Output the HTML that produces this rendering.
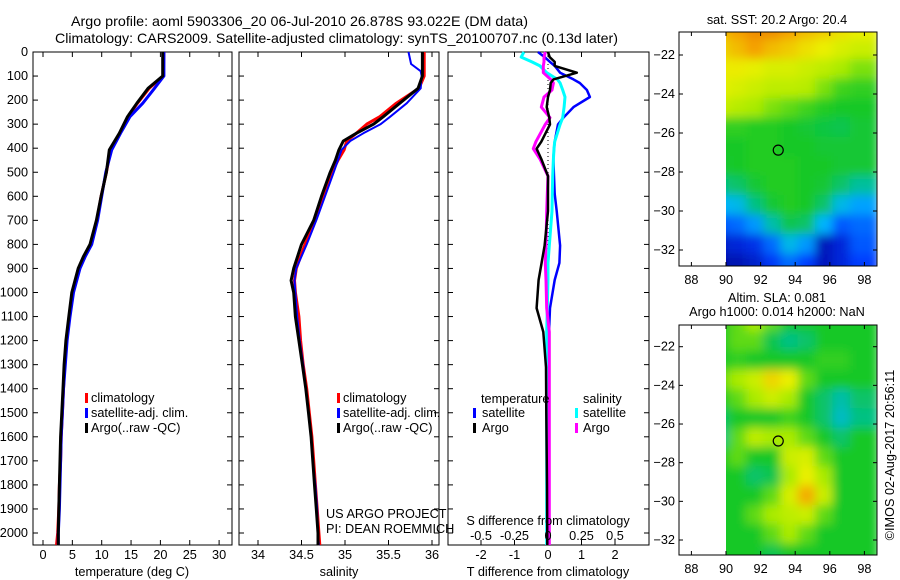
<!DOCTYPE html>
<html><head><meta charset="utf-8"><style>
body{margin:0;background:#fff}
svg{display:block;font-family:"Liberation Sans",sans-serif;font-size:12.7px}
</style></head><body>
<svg id="fig" width="900" height="580" viewBox="0 0 900 580" xmlns="http://www.w3.org/2000/svg">
<defs>
<filter id="blur" x="-5%" y="-5%" width="110%" height="110%"><feGaussianBlur stdDeviation="5"/></filter>
<clipPath id="clipTop"><rect x="726" y="32" width="151" height="234"/></clipPath>
<clipPath id="clipBot"><rect x="726" y="325" width="151" height="230"/></clipPath>
</defs>
<text x="71" y="26" textLength="457" lengthAdjust="spacingAndGlyphs" style="font-size:14px">Argo profile: aoml 5903306_20 06-Jul-2010 26.878S 93.022E (DM data)</text>
<text x="55" y="43" textLength="563" lengthAdjust="spacingAndGlyphs" style="font-size:14px">Climatology: CARS2009. Satellite-adjusted climatology: synTS_20100707.nc (0.13d later)</text>
<g id="g"></g>
</svg>
<script>
// ---- data ----
const tDepth=[0,100,151,213,269,338,407,500,600,700,800,850,900,1000,1100,1200,1300,1400,1500,1600,1700,1800,1900,2000,2050];
const tArgo=[20.4,20.4,17.9,16.0,14.4,13.0,11.3,10.8,9.9,9.1,8.0,6.9,6.0,4.9,4.4,3.9,3.6,3.4,3.2,3.0,2.9,2.8,2.7,2.6,2.6];
const tSat=[20.6,20.6,19.0,17.0,14.8,13.2,11.7,10.7,10.0,9.3,8.3,7.2,6.3,5.2,4.6,4.1,3.8,3.5,3.3,3.1,3.0,2.9,2.8,2.6,2.6];
const tClim=[20.6,20.5,18.1,16.1,14.5,13.1,11.5,10.8,9.9,9.2,8.1,7.0,6.1,5.0,4.5,4.0,3.7,3.5,3.3,3.1,3.0,2.8,2.7,2.5,2.3];
const sDepth=[0,50,80,100,151,213,269,300,338,370,407,450,500,600,700,800,900,950,1000,1100,1200,1300,1400,1500,1600,1700,1800,1900,2000,2050];
const sArgo=[35.89,35.89,35.89,35.89,35.84,35.63,35.44,35.33,35.13,34.98,34.93,34.89,34.83,34.73,34.64,34.50,34.41,34.38,34.41,34.43,34.47,34.51,34.55,34.58,34.61,34.63,34.65,34.67,34.69,34.69];
const sClim=[35.91,35.91,35.91,35.91,35.85,35.59,35.40,35.25,35.13,35.02,34.99,34.92,34.85,34.75,34.66,34.54,34.44,34.42,34.43,34.47,34.49,34.52,34.56,34.59,34.62,34.64,34.66,34.68,34.70,34.71];
const sSat=[35.73,35.76,35.87,35.88,35.87,35.71,35.52,35.41,35.21,35.06,34.96,34.92,34.87,34.77,34.67,34.56,34.44,34.42,34.43,34.45,34.48,34.52,34.55,34.58,34.61,34.63,34.66,34.68,34.69,34.70];
const dDepth=[0,21,41,58,86,114,129,158,187,229,273,301,373,402,445,516,590,661,805,877,948,1065,1164,1310,1500,1800,2050];
const dTArgo=[0,0.05,0.2,0.2,0.86,0.16,0.08,0.06,0.0,-0.04,0.04,0.06,-0.2,-0.34,-0.2,0,0,0,-0.1,-0.19,-0.28,-0.34,-0.14,-0.06,-0.05,-0.03,-0.02];
const dTSat=[-0.3,-0.1,0.06,0.2,0.36,0.76,0.95,1.16,1.25,0.76,0.46,0.3,0.2,0.18,0.16,0.18,0.2,0.26,0.36,0.34,0.2,0.06,0.03,0.03,0.03,0.03,0.03];
const dSSat=[-0.18,-0.2,-0.12,-0.06,-0.01,0.07,0.09,0.11,0.127,0.12,0.11,0.09,0.05,0.045,0.04,0.035,0.032,0.03,0.01,0,0,-0.005,-0.01,-0.01,-0.01,-0.01,-0.01];
const dSArgo=[-0.02,-0.03,-0.03,-0.035,-0.035,0.02,0.04,0.03,-0.03,-0.05,0.015,-0.02,-0.09,-0.11,-0.06,0,-0.005,-0.01,-0.015,-0.02,-0.015,-0.01,0.01,0.01,0.01,0.01,0.01];
const depthTicks=[0,100,200,300,400,500,600,700,800,900,1000,1100,1200,1300,1400,1500,1600,1700,1800,1900,2000];
const tTicks=[0,5,10,15,20,25,30];
const sTicks=[34,34.5,35,35.5,36];
const dTTicks=[-2,-1,0,1,2];
const dSTicks=[-0.5,-0.25,0,0.25,0.5];
const dSTickLabels=['-0.5','-0.25','0','0.25','0.5'];
const mapLonTicks=[88,90,92,94,96,98];
const mapLatTicks=[-22,-24,-26,-28,-30,-32];
const mapLats=[-21,-22,-23,-24,-25,-26,-27,-28,-29,-30,-31,-32,-33];
const mapLons=[90,91,92,93,94,95,96,97,98];
const sstGrid=[
[0.75,0.8,0.85,0.85,0.8,0.75,0.72,0.68,0.65],
[0.7,0.75,0.8,0.75,0.72,0.68,0.65,0.62,0.6],
[0.66,0.66,0.64,0.62,0.62,0.6,0.58,0.55,0.52],
[0.64,0.62,0.6,0.58,0.58,0.57,0.52,0.48,0.47],
[0.6,0.57,0.55,0.52,0.5,0.48,0.46,0.45,0.45],
[0.47,0.47,0.46,0.46,0.45,0.44,0.43,0.42,0.44],
[0.45,0.45,0.46,0.46,0.45,0.45,0.44,0.44,0.44],
[0.44,0.45,0.46,0.46,0.46,0.45,0.45,0.44,0.44],
[0.38,0.4,0.44,0.46,0.46,0.45,0.44,0.4,0.36],
[0.28,0.3,0.38,0.44,0.46,0.45,0.4,0.3,0.26],
[0.18,0.2,0.25,0.35,0.42,0.4,0.28,0.18,0.2],
[0.08,0.1,0.12,0.2,0.3,0.25,0.06,0.1,0.18],
[0.04,0.05,0.08,0.14,0.2,0.15,0.06,0.1,0.15]];
const slaGrid=[
[0.45,0.5,0.55,0.5,0.45,0.45,0.45,0.45,0.45],
[0.45,0.5,0.5,0.42,0.38,0.4,0.45,0.45,0.45],
[0.45,0.47,0.45,0.45,0.45,0.45,0.47,0.47,0.45],
[0.5,0.55,0.6,0.7,0.65,0.5,0.45,0.45,0.45],
[0.45,0.5,0.55,0.6,0.55,0.45,0.4,0.35,0.4],
[0.4,0.45,0.45,0.45,0.48,0.45,0.4,0.33,0.38],
[0.38,0.5,0.58,0.55,0.55,0.5,0.45,0.4,0.45],
[0.45,0.5,0.45,0.45,0.6,0.62,0.5,0.45,0.45],
[0.45,0.45,0.4,0.42,0.55,0.65,0.55,0.45,0.45],
[0.45,0.45,0.45,0.5,0.62,0.78,0.6,0.45,0.45],
[0.45,0.45,0.5,0.55,0.58,0.6,0.5,0.45,0.45],
[0.45,0.45,0.45,0.5,0.55,0.5,0.45,0.45,0.45],
[0.45,0.45,0.45,0.42,0.45,0.45,0.45,0.45,0.45]];
const argoPos=[93.02,-26.88];

// ---- axes ----
const NS="http://www.w3.org/2000/svg";
const G=document.getElementById('g');
function mk(tag,a,parent){const e=document.createElementNS(NS,tag);for(const k in a)e.setAttribute(k,a[k]);(parent||G).appendChild(e);return e;}
const yD=d=>52+d*0.2405;
const xT=t=>43+t*5.87;
const xS=s=>258+(s-34)*87;
const xDT=t=>548+t*33.5;
const xDS=s=>548+s*134;
const Y0=52,Y1=545;
function panel(x0,x1,name,xticks,xf,labelY){
  const r=mk('rect',{x:x0,y:Y0,width:x1-x0,height:Y1-Y0,fill:'none',stroke:'#000','stroke-width':1});
  
  
  depthTicks.forEach(d=>{mk('line',{x1:x0,x2:x0+5,y1:yD(d),y2:yD(d),stroke:'#000'});mk('line',{x1:x1-5,x2:x1,y1:yD(d),y2:yD(d),stroke:'#000'});});
  xticks.forEach(v=>{const x=xf(v);mk('line',{x1:x,x2:x,y1:Y0,y2:Y0+5,stroke:'#000'});mk('line',{x1:x,x2:x,y1:Y1-5,y2:Y1,stroke:'#000'});
    if(labelY){const t=mk('text',{x:x,y:labelY,'text-anchor':'middle'});t.textContent=String(v);
    
    }});
}
function line(ds,vs,xf,color,w,name){
  const p=ds.map((d,i)=>xf(vs[i]).toFixed(1)+','+yD(d).toFixed(1)).join(' ');
  const e=mk('polyline',{points:p,fill:'none',stroke:color,'stroke-width':w,'stroke-linejoin':'round'});
  
  
}
function txt(x,y,s,name,anchor){const t=mk('text',{x:x,y:y,'text-anchor':anchor||'start'});t.textContent=s;
  
  return t;}
function legMark(x,y,color,name){const r=mk('rect',{x:x,y:y-9,width:3,height:10,fill:color});
  
  }

depthTicks.forEach(d=>{txt(28,yD(d)+4,String(d),'depth-tick-label','end');});

// panel 1
panel(33,232,'temperature-panel',tTicks,xT,559);
line(tDepth,tClim,xT,'#ff0000',3,'temperature-climatology-line');
line(tDepth,tSat,xT,'#0000ff',3,'temperature-satellite-line');
line(tDepth,tArgo,xT,'#000000',3,'temperature-argo-line');
txt(132,576,'temperature (deg C)','temperature-axis-title','middle');
legMark(85,402,'#ff0000','legend-climatology-marker');txt(91,402,'climatology','legend-climatology');
legMark(85,417,'#0000ff','legend-satellite-marker');txt(91,417,'satellite-adj. clim.','legend-satellite');
legMark(85,432,'#000000','legend-argo-marker');txt(91,432,'Argo(..raw -QC)','legend-argo');

// panel 2
panel(239,439,'salinity-panel',sTicks,xS,559);
line(sDepth,sClim,xS,'#ff0000',3,'salinity-climatology-line');
line(sDepth,sSat,xS,'#0000ff',2,'salinity-satellite-line');
line(sDepth,sArgo,xS,'#000000',3,'salinity-argo-line');
txt(339,576,'salinity','salinity-axis-title','middle');
legMark(337,402,'#ff0000','legend2-climatology-marker');txt(343,402,'climatology','legend2-climatology');
legMark(337,417,'#0000ff','legend2-satellite-marker');txt(343,417,'satellite-adj. clim.','legend2-satellite');
legMark(337,432,'#000000','legend2-argo-marker');txt(343,432,'Argo(..raw -QC)','legend2-argo');
txt(326,518,'US ARGO PROJECT','project-label');
txt(326,533,'PI: DEAN ROEMMICH','pi-label');

// panel 3
panel(448,649,'difference-panel',dTTicks,xDT,559);
mk('line',{x1:548,x2:548,y1:Y0,y2:Y1,stroke:'#000','stroke-dasharray':'1,3'});
line(dDepth,dTSat,xDT,'#0000ff',2.5,'tdiff-satellite-line');
line(dDepth,dSSat,xDS,'#00ffff',3,'sdiff-satellite-line');
line(dDepth,dSArgo,xDS,'#ff00ff',3,'sdiff-argo-line');
line(dDepth,dTArgo,xDT,'#000000',2.5,'tdiff-argo-line');
dSTicks.forEach((v,i)=>txt(xDS(v),540,dSTickLabels[i],'s-diff-tick-label','middle'));
txt(548,525,'S difference from climatology','s-diff-axis-title','middle');
txt(548,576,'T difference from climatology','t-diff-axis-title','middle');
txt(481,403,'temperature','legend3-temperature-header');
txt(583,403,'salinity','legend3-salinity-header');
legMark(473,417,'#0000ff','legend3-t-satellite-marker');txt(482,417,'satellite','legend3-t-satellite');
legMark(473,432,'#000000','legend3-t-argo-marker');txt(482,432,'Argo','legend3-t-argo');
legMark(575,417,'#00ffff','legend3-s-satellite-marker');txt(583,417,'satellite','legend3-s-satellite');
legMark(575,432,'#ff00ff','legend3-s-argo-marker');txt(583,432,'Argo','legend3-s-argo');

// maps
function cmap(v){const st=[[0,[0,0,140]],[0.15,[0,60,255]],[0.28,[0,180,255]],[0.35,[0,190,170]],[0.45,[20,200,40]],[0.55,[170,235,0]],[0.65,[235,240,0]],[0.8,[245,160,0]],[1,[220,80,0]]];
  for(let i=1;i<st.length;i++){if(v<=st[i][0]){const a=st[i-1],b=st[i],f=(v-a[0])/(b[0]-a[0]);
    return 'rgb('+a[1].map((c,k)=>Math.round(c+(b[1][k]-c)*f)).join(',')+')';}}return 'rgb(220,80,0)';}
function map(name,top,bottom,lat22,lat32,grid,clip){
  const xL=lon=>726+(lon-90)*17.3;
  const yL=lat=>lat22+(-22-lat)*(lat32-lat22)/10;
  const g=mk('g',{'clip-path':'url(#'+clip+')'});
  
  
  const gb=mk('g',{filter:'url(#blur)'},g);
  mapLats.forEach((lat,i)=>mapLons.forEach((lon,j)=>{
    mk('rect',{x:xL(lon-0.5)-6,y:yL(lat+0.5)-6,width:17.3+12,height:(lat32-lat22)/10+12,fill:cmap(grid[i][j])},gb);
  }));
  const fr=mk('rect',{x:679,y:top,width:198,height:bottom-top,fill:'none',stroke:'#000'});
  
  
  mapLonTicks.forEach(l=>{mk('line',{x1:xL(l),x2:xL(l),y1:bottom,y2:bottom-4,stroke:'#000'});mk('line',{x1:xL(l),x2:xL(l),y1:top,y2:top+4,stroke:'#000'});
    txt(xL(l),bottom+18,String(l),name+'-lon-label','middle');});
  mapLatTicks.forEach(l=>{mk('line',{x1:679,x2:683,y1:yL(l),y2:yL(l),stroke:'#000'});mk('line',{x1:873,x2:877,y1:yL(l),y2:yL(l),stroke:'#000'});
    txt(675,yL(l)+4,'\u2212'+String(-l),name+'-lat-label','end');});
  const c=mk('circle',{cx:xL(argoPos[0]),cy:yL(argoPos[1]),r:5,fill:'none',stroke:'#000','stroke-width':1.2});
  
  
}
map('sst-map',32,266,55,250,sstGrid,'clipTop');
txt(777,24,'sat. SST: 20.2 Argo: 20.4','sst-map-title','middle');
map('sla-map',325,555,346.7,540,slaGrid,'clipBot');
txt(777,302,'Altim. SLA: 0.081','sla-map-title','middle');
txt(777,316,'Argo h1000: 0.014 h2000: NaN','sla-map-subtitle','middle');
const st=txt(0,0,'\u00A9IMOS 02-Aug-2017 20:56:11','timestamp','middle');
st.setAttribute('transform','translate(894,455) rotate(-90)');
</script>
</body></html>
